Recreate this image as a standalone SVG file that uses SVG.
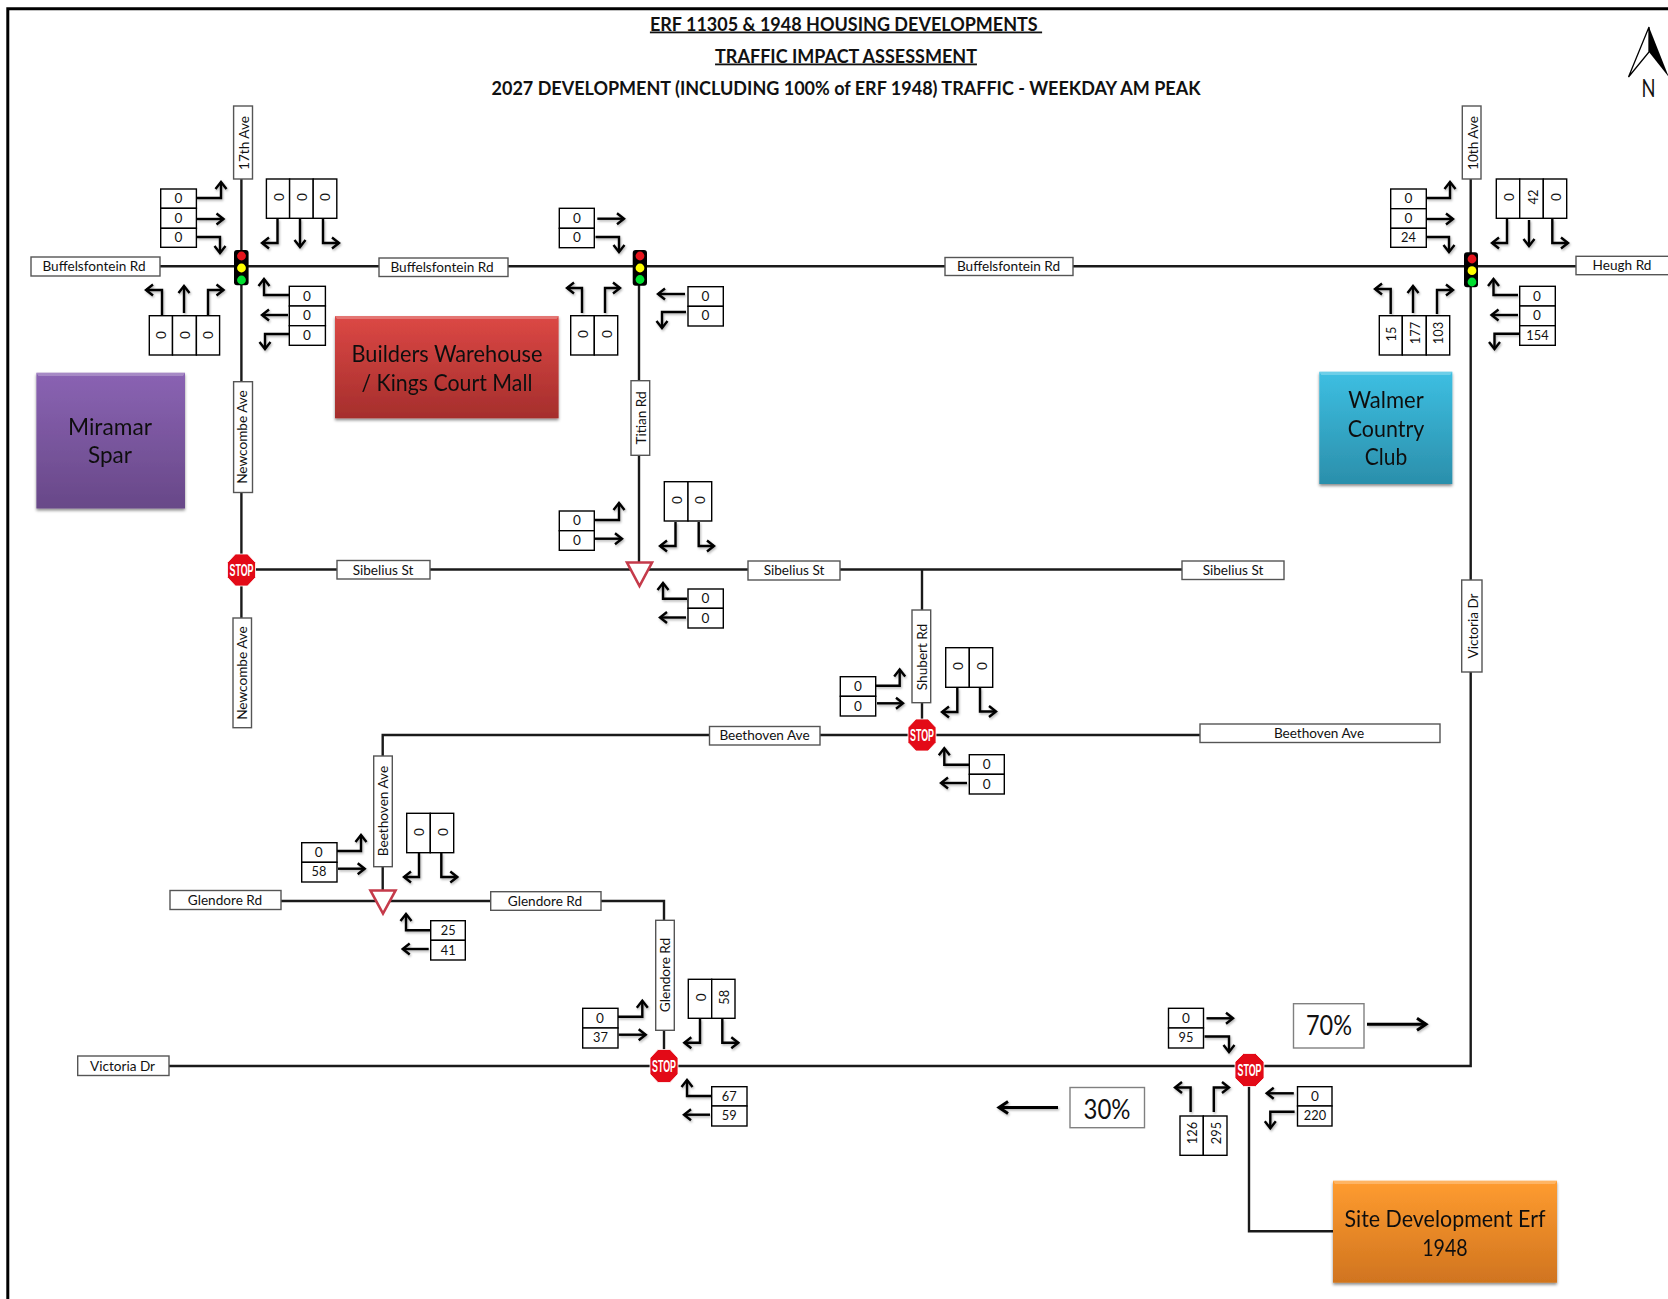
<svg xmlns="http://www.w3.org/2000/svg" width="1668" height="1299" viewBox="0 0 1668 1299">
<style>
text{font-family:Lato,"Liberation Sans",sans-serif;fill:#111;text-anchor:middle;dominant-baseline:central}
.ttl{font-size:18px;font-weight:700;dominant-baseline:auto}
.u{text-decoration:underline}
.road{fill:none;stroke:#1a1a1a;stroke-width:2.4}
.c{fill:#fff;stroke:#000;stroke-width:1.4}
.l{fill:#fff;stroke:#555;stroke-width:1.4}
.t{font-size:13.6px}
.v{font-size:13.6px}
.s{font-size:12.8px}
.big{font-size:23px}
.pct{font-size:26px}
.ar{fill:none;stroke:#000;stroke-width:2.4;marker-end:url(#ah)}
.arb{fill:none;stroke:#000;stroke-width:3;marker-end:url(#ahb)}
.stp{fill:#e30a17;stroke:#fff;stroke-width:.8}
.stt{font-family:"Liberation Sans Narrow","Liberation Sans",sans-serif;font-weight:700;font-size:16px;fill:#fff}
.yld{fill:#fff;stroke:#c53a4a;stroke-width:2.6;stroke-linejoin:miter}
.hs{fill:#000}
.bev{fill:#fff;opacity:.25}
</style>
<defs>
<marker id="ah" markerUnits="userSpaceOnUse" markerWidth="18" markerHeight="18" viewBox="-14 -9 18 18" refX="0" refY="0" orient="auto"><path d="M-7,-5.5 L0,0 L-7,5.5" fill="none" stroke="#000" stroke-width="2.4"/></marker>
<marker id="ahb" markerUnits="userSpaceOnUse" markerWidth="20" markerHeight="20" viewBox="-16 -10 20 20" refX="0" refY="0" orient="auto"><path d="M-9,-6 L0,0 L-9,6" fill="none" stroke="#000" stroke-width="3"/></marker>
<filter id="sh" x="-20%" y="-20%" width="140%" height="140%"><feDropShadow dx="1" dy="1.5" stdDeviation="1" flood-color="#000" flood-opacity=".3"/></filter>
<filter id="bs" x="-5%" y="-5%" width="110%" height="112%"><feDropShadow dx="0" dy="2" stdDeviation="1.5" flood-color="#000" flood-opacity=".45"/></filter>
<linearGradient id="gr" x1="0" y1="0" x2="0" y2="1"><stop offset="0" stop-color="#dc4845"/><stop offset="1" stop-color="#a52e2c"/></linearGradient>
<linearGradient id="gp" x1="0" y1="0" x2="0" y2="1"><stop offset="0" stop-color="#8a63b3"/><stop offset="1" stop-color="#684888"/></linearGradient>
<linearGradient id="gb" x1="0" y1="0" x2="0" y2="1"><stop offset="0" stop-color="#3dbfe2"/><stop offset="1" stop-color="#2b8fab"/></linearGradient>
<linearGradient id="go" x1="0" y1="0" x2="0" y2="1"><stop offset="0" stop-color="#ff9c30"/><stop offset="1" stop-color="#d0741f"/></linearGradient>
</defs>
<rect width="1668" height="1299" fill="#fff"/>
<path d="M7.8 1299V8.8H1668" fill="none" stroke="#000" stroke-width="3"/>

<g id="title">
<text class="ttl u" x="846" y="30.5" xml:space="preserve">ERF 11305 &amp; 1948 HOUSING DEVELOPMENTS </text>
<text class="ttl u" x="846" y="62.5">TRAFFIC IMPACT ASSESSMENT</text>
<text class="ttl" x="846" y="94.5">2027 DEVELOPMENT (INCLUDING 100% of ERF 1948) TRAFFIC - WEEKDAY AM PEAK</text>
</g>
<g id="north">
<path d="M1649 27L1628.5 77L1649 52Z" fill="#fff" stroke="#000" stroke-width="1.3"/>
<path d="M1649 27L1668 75V76L1649 52Z" fill="#000"/>
<text x="1648.5" y="87" font-size="25" textLength="14" lengthAdjust="spacingAndGlyphs">N</text>
</g>

<g id="roads">
<path class="road" d="M160 266.3H1576"/>
<path class="road" d="M241.4 179V618"/>
<path class="road" d="M639 266V569"/>
<path class="road" d="M241 569.5H1182"/>
<path class="road" d="M922 569.5V735"/>
<path class="road" d="M1200 735H382.7V890"/>
<path class="road" d="M281 901H664V1050"/>
<path class="road" d="M169 1066H1470.7V179"/>
<path class="road" d="M1249 1086V1231.3H1335.5"/>
</g>

<g id="connectors" filter="url(#sh)">
<path class="ar" d="M196.5 198H221V182"/><path class="ar" d="M197 219H223.5"/><path class="ar" d="M197 237H220V253"/>
<path class="ar" d="M277.5 219V243H262"/><path class="ar" d="M300 219V247"/><path class="ar" d="M323 219V243H339"/>
<path class="ar" d="M162 315V290H146"/><path class="ar" d="M184 313V286"/><path class="ar" d="M208 315V290H223.5"/>
<path class="ar" d="M289 295H264V279"/><path class="ar" d="M288 315H262"/><path class="ar" d="M289 334H265V349"/>
<path class="ar" d="M597.3 218.7H624"/><path class="ar" d="M595.5 237H619V252"/>
<path class="ar" d="M582 313V288H567"/><path class="ar" d="M605 313V288H620"/>
<path class="ar" d="M685 294H658"/><path class="ar" d="M686 312H662V328"/>
<path class="ar" d="M594.5 520H619V503"/><path class="ar" d="M595 538.7H622"/>
<path class="ar" d="M675.5 522V546H660"/><path class="ar" d="M698.7 522V546H714"/>
<path class="ar" d="M687 598.7H663V583"/><path class="ar" d="M686 617.5H660"/>
<path class="ar" d="M1426.5 198H1450V182"/><path class="ar" d="M1427 219H1453"/><path class="ar" d="M1426 237H1449V252"/>
<path class="ar" d="M1507 219V243H1492"/><path class="ar" d="M1529 220V246"/><path class="ar" d="M1552.3 219V243H1568"/>
<path class="ar" d="M1390.7 314V289H1375"/><path class="ar" d="M1413 313V286"/><path class="ar" d="M1437 314V290H1453"/>
<path class="ar" d="M1518 295H1493.5V279"/><path class="ar" d="M1518 315H1491.5"/><path class="ar" d="M1519 333.7H1494.5V349"/>
<path class="ar" d="M875.7 685.7H899.7V669.5"/><path class="ar" d="M877 703.3H903"/>
<path class="ar" d="M957.3 688V712H942"/><path class="ar" d="M980 688V711.5H996"/>
<path class="ar" d="M969 764.7H944.3V748.3"/><path class="ar" d="M967 783H941"/>
<path class="ar" d="M337 851H361V835"/><path class="ar" d="M338 868.7H364.7"/>
<path class="ar" d="M419 853V877H404"/><path class="ar" d="M441.3 853V877H457.3"/>
<path class="ar" d="M430 930.3H406V914"/><path class="ar" d="M428.7 949H402.7"/>
<path class="ar" d="M618 1016.7H642.3V1000.7"/><path class="ar" d="M618.7 1034.7H645.7"/>
<path class="ar" d="M700 1019V1042.7H684.3"/><path class="ar" d="M722.3 1019V1042.7H738.3"/>
<path class="ar" d="M711.3 1096H687V1080"/><path class="ar" d="M710 1114.7H684"/>
<path class="ar" d="M1206.5 1018.3H1233"/><path class="ar" d="M1204.5 1036.5H1229V1052"/>
<path class="ar" d="M1190.6 1112V1087.5H1175"/><path class="ar" d="M1213.8 1112V1087.5H1229"/>
<path class="ar" d="M1293.8 1093.3H1266.7"/><path class="ar" d="M1294.6 1111.7H1270.3V1128.3"/>
<path class="arb" d="M1367 1024.3H1426"/><path class="arb" d="M1058 1107.5H999"/>
</g>

<g id="road-labels">
<rect class="l" x="233.6" y="106" width="18.9" height="73"/><text class="t" transform="translate(243.5 143) rotate(-90)">17th Ave</text>
<rect class="l" x="31" y="257" width="129" height="19"/><text class="t" x="94" y="265.5">Buffelsfontein Rd</text>
<rect class="l" x="379" y="258" width="129" height="18.5"/><text class="t" x="442" y="266.5">Buffelsfontein Rd</text>
<rect class="l" x="945" y="257.5" width="128" height="18"/><text class="t" x="1008.5" y="265.5">Buffelsfontein Rd</text>
<rect class="l" x="1576" y="256.3" width="94" height="18.4"/><text class="t" x="1622" y="264.5">Heugh Rd</text>
<rect class="l" x="1462.3" y="106" width="18.7" height="73"/><text class="t" transform="translate(1472.5 143) rotate(-90)">10th Ave</text>
<rect class="l" x="233.6" y="381.7" width="18.9" height="110.8"/><text class="t" transform="translate(242.3 437) rotate(-90)">Newcombe Ave</text>
<rect class="l" x="631" y="380.7" width="18.7" height="74.6"/><text class="t" transform="translate(640.5 418) rotate(-90)">Titian Rd</text>
<rect class="l" x="337" y="560.5" width="93" height="18.5"/><text class="t" x="383" y="569.5">Sibelius St</text>
<rect class="l" x="748" y="561" width="92" height="19"/><text class="t" x="794" y="569.8">Sibelius St</text>
<rect class="l" x="1182" y="561" width="102" height="18.5"/><text class="t" x="1233" y="569.5">Sibelius St</text>
<rect class="l" x="233" y="618" width="18.5" height="109.7"/><text class="t" transform="translate(241.8 673) rotate(-90)">Newcombe Ave</text>
<rect class="l" x="1461.7" y="580" width="20.3" height="92"/><text class="t" transform="translate(1472.5 626) rotate(-90)">Victoria Dr</text>
<rect class="l" x="912" y="610" width="18.7" height="92.7"/><text class="t" transform="translate(921.5 657) rotate(-90)">Shubert Rd</text>
<rect class="l" x="709.5" y="726.5" width="110.5" height="18.5"/><text class="t" x="764.5" y="735">Beethoven Ave</text>
<rect class="l" x="1200" y="724" width="240" height="18.5"/><text class="t" x="1319" y="732.8">Beethoven Ave</text>
<rect class="l" x="373.7" y="756" width="18.6" height="110.7"/><text class="t" transform="translate(382.5 811) rotate(-90)">Beethoven Ave</text>
<rect class="l" x="170" y="890.5" width="111" height="19"/><text class="t" x="225" y="899.7">Glendore Rd</text>
<rect class="l" x="490.7" y="891.7" width="110.3" height="18.6"/><text class="t" x="545" y="900.5">Glendore Rd</text>
<rect class="l" x="655.7" y="920.3" width="18.6" height="110"/><text class="t" transform="translate(665 975) rotate(-90)">Glendore Rd</text>
<rect class="l" x="77.7" y="1056" width="91.3" height="19.5"/><text class="t" x="122.5" y="1065.5">Victoria Dr</text>
</g>

<g id="signal-17th"><rect class="hs" x="234" y="250" width="14.6" height="35.3" rx="3"/><circle cx="241.5" cy="256" r="4.4" fill="#e5141c"/><circle cx="241.5" cy="268" r="4.4" fill="#ffff00"/><circle cx="241.5" cy="280" r="4.4" fill="#00e030"/></g>
<g id="signal-titian"><rect class="hs" x="632.7" y="250" width="14.3" height="35.7" rx="3"/><circle cx="640" cy="256" r="4.4" fill="#e5141c"/><circle cx="640" cy="268" r="4.4" fill="#ffff00"/><circle cx="640" cy="279.5" r="4.4" fill="#00e030"/></g>
<g id="signal-10th"><rect class="hs" x="1464" y="252.3" width="14" height="35" rx="3"/><circle cx="1472" cy="259" r="4.4" fill="#e5141c"/><circle cx="1472" cy="270.7" r="4.4" fill="#ffff00"/><circle cx="1472" cy="282" r="4.4" fill="#00e030"/></g>

<g id="stop-newcombe"><path class="stp" d="M235.5 554H247.5L255.5 562.5V577.5L247.5 586H235.5L227.5 577.5V562.5Z"/><text class="stt" x="241.5" y="570.5" textLength="24" lengthAdjust="spacingAndGlyphs">STOP</text></g>
<g id="stop-shubert"><path class="stp" d="M916 719H928L936 727.5V742.5L928 751H916L908 742.5V727.5Z"/><text class="stt" x="922" y="735.5" textLength="24" lengthAdjust="spacingAndGlyphs">STOP</text></g>
<g id="stop-glendore"><path class="stp" d="M658 1049.5H670L678 1058V1074L670 1082.5H658L650 1074V1058Z"/><text class="stt" x="664" y="1066.5" textLength="24" lengthAdjust="spacingAndGlyphs">STOP</text></g>
<g id="stop-site"><path class="stp" d="M1243.5 1053.5H1255.5L1264 1062V1078L1255.5 1086.5H1243.5L1235 1078V1062Z"/><text class="stt" x="1249.5" y="1070.5" textLength="24" lengthAdjust="spacingAndGlyphs">STOP</text></g>
<g id="yield-titian"><path class="yld" d="M627 562.5H652L639.5 586Z"/></g>
<g id="yield-beethoven"><path class="yld" d="M370.5 890.5H395.5L383 913.5Z"/></g>

<g id="t-17th-w">
<rect class="c" x="160.7" y="189" width="35.7" height="19.3"/><text class="v" x="178.5" y="198">0</text>
<rect class="c" x="160.7" y="208.3" width="35.7" height="20"/><text class="v" x="178.5" y="217.8">0</text>
<rect class="c" x="160.7" y="228.3" width="35.7" height="19"/><text class="v" x="178.5" y="237">0</text>
</g>
<g id="t-17th-n">
<rect class="c" x="266.4" y="179" width="23.2" height="39.3"/><text class="v" transform="translate(278.5 197) rotate(-90)">0</text>
<rect class="c" x="289.6" y="179" width="23.6" height="39.3"/><text class="v" transform="translate(302 197) rotate(-90)">0</text>
<rect class="c" x="313.2" y="179" width="23.6" height="39.3"/><text class="v" transform="translate(325 197) rotate(-90)">0</text>
</g>
<g id="t-17th-s">
<rect class="c" x="149.3" y="315.7" width="23.2" height="39.3"/><text class="v" transform="translate(161 335) rotate(-90)">0</text>
<rect class="c" x="172.5" y="315.7" width="23.9" height="39.3"/><text class="v" transform="translate(185 335) rotate(-90)">0</text>
<rect class="c" x="196.4" y="315.7" width="23.2" height="39.3"/><text class="v" transform="translate(208 335) rotate(-90)">0</text>
</g>
<g id="t-17th-e">
<rect class="c" x="289.3" y="286.3" width="36.1" height="19.7"/><text class="v" x="307" y="295.5">0</text>
<rect class="c" x="289.3" y="306" width="36.1" height="19.7"/><text class="v" x="307" y="315">0</text>
<rect class="c" x="289.3" y="325.7" width="36.1" height="19.6"/><text class="v" x="307" y="335">0</text>
</g>

<g id="t-titian-w">
<rect class="c" x="559.3" y="208.3" width="35" height="20"/><text class="v" x="577" y="218">0</text>
<rect class="c" x="559.3" y="228.3" width="35" height="19.4"/><text class="v" x="577" y="237">0</text>
</g>
<g id="t-titian-s">
<rect class="c" x="570.7" y="315.7" width="23.6" height="39.3"/><text class="v" transform="translate(582.7 334) rotate(-90)">0</text>
<rect class="c" x="594.3" y="315.7" width="23.4" height="39.3"/><text class="v" transform="translate(606.7 334) rotate(-90)">0</text>
</g>
<g id="t-titian-e">
<rect class="c" x="688" y="286.7" width="35.3" height="19.6"/><text class="v" x="705.5" y="296">0</text>
<rect class="c" x="688" y="306.3" width="35.3" height="19.7"/><text class="v" x="705.5" y="315">0</text>
</g>

<g id="t-yield-w">
<rect class="c" x="559.3" y="511" width="35" height="19.7"/><text class="v" x="577" y="520.3">0</text>
<rect class="c" x="559.3" y="530.7" width="35" height="19.6"/><text class="v" x="577" y="539.5">0</text>
</g>
<g id="t-yield-n">
<rect class="c" x="664.3" y="481.7" width="23.7" height="39.3"/><text class="v" transform="translate(677 500) rotate(-90)">0</text>
<rect class="c" x="688" y="481.7" width="23.7" height="39.3"/><text class="v" transform="translate(700.3 500) rotate(-90)">0</text>
</g>
<g id="t-yield-e">
<rect class="c" x="688" y="589" width="35.3" height="19.3"/><text class="v" x="705.5" y="598.2">0</text>
<rect class="c" x="688" y="608.3" width="35.3" height="19.7"/><text class="v" x="705.5" y="617.5">0</text>
</g>

<g id="t-10th-w">
<rect class="c" x="1390.7" y="189" width="35.6" height="19.7"/><text class="v" x="1408.5" y="198">0</text>
<rect class="c" x="1390.7" y="208.7" width="35.6" height="19.6"/><text class="v" x="1408.5" y="217.8">0</text>
<rect class="c" x="1390.7" y="228.3" width="35.6" height="19"/><text class="s" x="1408.5" y="237">24</text>
</g>
<g id="t-10th-n">
<rect class="c" x="1496.3" y="179" width="23.4" height="39.3"/><text class="v" transform="translate(1509 197) rotate(-90)">0</text>
<rect class="c" x="1519.7" y="179" width="23.6" height="39.3"/><text class="s" transform="translate(1532.7 197) rotate(-90)">42</text>
<rect class="c" x="1543.3" y="179" width="23.4" height="39.3"/><text class="v" transform="translate(1555.7 197) rotate(-90)">0</text>
</g>
<g id="t-10th-s">
<rect class="c" x="1379.3" y="315.7" width="23" height="39.3"/><text class="s" transform="translate(1391.2 334) rotate(-90)">15</text>
<rect class="c" x="1402.3" y="315.7" width="24" height="39.3"/><text class="s" transform="translate(1414.5 333) rotate(-90)">177</text>
<rect class="c" x="1426.3" y="315.7" width="23.4" height="39.3"/><text class="s" transform="translate(1438.3 333) rotate(-90)">103</text>
</g>
<g id="t-10th-e">
<rect class="c" x="1519.7" y="286.3" width="35.6" height="19.7"/><text class="v" x="1537" y="295.5">0</text>
<rect class="c" x="1519.7" y="306" width="35.6" height="19.7"/><text class="v" x="1537" y="315">0</text>
<rect class="c" x="1519.7" y="325.7" width="35.6" height="19.6"/><text class="s" x="1537.5" y="335">154</text>
</g>

<g id="t-shubert-w">
<rect class="c" x="840.3" y="676.7" width="35.4" height="19.6"/><text class="v" x="858" y="686">0</text>
<rect class="c" x="840.3" y="696.3" width="35.4" height="19.7"/><text class="v" x="858" y="705.5">0</text>
</g>
<g id="t-shubert-n">
<rect class="c" x="945.7" y="647.7" width="23.6" height="39.6"/><text class="v" transform="translate(958.3 666) rotate(-90)">0</text>
<rect class="c" x="969.3" y="647.7" width="23.4" height="39.6"/><text class="v" transform="translate(981.7 666) rotate(-90)">0</text>
</g>
<g id="t-shubert-e">
<rect class="c" x="969.3" y="754.7" width="35" height="19.6"/><text class="v" x="986.7" y="764">0</text>
<rect class="c" x="969.3" y="774.3" width="35" height="19.7"/><text class="v" x="986.7" y="783.7">0</text>
</g>

<g id="t-beet-w">
<rect class="c" x="301.7" y="842.7" width="35.3" height="19.6"/><text class="v" x="318.7" y="852">0</text>
<rect class="c" x="301.7" y="862.3" width="35.3" height="19.7"/><text class="s" x="319" y="871">58</text>
</g>
<g id="t-beet-n">
<rect class="c" x="406.7" y="813.3" width="23.6" height="39.4"/><text class="v" transform="translate(419 832) rotate(-90)">0</text>
<rect class="c" x="430.3" y="813.3" width="23.4" height="39.4"/><text class="v" transform="translate(442.7 832) rotate(-90)">0</text>
</g>
<g id="t-beet-e">
<rect class="c" x="430.7" y="920.7" width="34.6" height="19.6"/><text class="s" x="448.3" y="930">25</text>
<rect class="c" x="430.7" y="940.3" width="34.6" height="19.7"/><text class="s" x="448.3" y="950">41</text>
</g>

<g id="t-glen-w">
<rect class="c" x="582.7" y="1008.3" width="35.3" height="19.7"/><text class="v" x="600" y="1017.7">0</text>
<rect class="c" x="582.7" y="1028" width="35.3" height="20"/><text class="s" x="600.5" y="1037">37</text>
</g>
<g id="t-glen-n">
<rect class="c" x="688.3" y="979.3" width="23.4" height="39"/><text class="v" transform="translate(700.7 997.3) rotate(-90)">0</text>
<rect class="c" x="711.7" y="979.3" width="23.3" height="39"/><text class="s" transform="translate(723.5 997.3) rotate(-90)">58</text>
</g>
<g id="t-glen-e">
<rect class="c" x="711.7" y="1086.7" width="35.3" height="19.3"/><text class="s" x="729.3" y="1096">67</text>
<rect class="c" x="711.7" y="1106" width="35.3" height="20"/><text class="s" x="729.3" y="1115.2">59</text>
</g>

<g id="t-site-w">
<rect class="c" x="1168.5" y="1008.3" width="35" height="19.7"/><text class="v" x="1186" y="1018">0</text>
<rect class="c" x="1168.5" y="1028" width="35" height="20"/><text class="s" x="1186" y="1037">95</text>
</g>
<g id="t-site-s">
<rect class="c" x="1180" y="1116" width="23.3" height="39.3"/><text class="s" transform="translate(1192.2 1133) rotate(-90)">126</text>
<rect class="c" x="1203.3" y="1116" width="23.7" height="39.3"/><text class="s" transform="translate(1215.5 1133) rotate(-90)">295</text>
</g>
<g id="t-site-e">
<rect class="c" x="1297.5" y="1086.7" width="34.5" height="19.3"/><text class="v" x="1315" y="1096">0</text>
<rect class="c" x="1297.5" y="1106" width="34.5" height="20"/><text class="s" x="1315" y="1115">220</text>
</g>

<g id="pct-70"><rect x="1293.5" y="1003.7" width="70.5" height="44.3" fill="#fff" stroke="#808080" stroke-width="1.4"/><text class="pct" x="1329" y="1024.5" textLength="46" lengthAdjust="spacingAndGlyphs">70%</text></g>
<g id="pct-30"><rect x="1070" y="1087.5" width="74.5" height="40.2" fill="#fff" stroke="#808080" stroke-width="1.4"/><text class="pct" x="1107" y="1108.5" textLength="47" lengthAdjust="spacingAndGlyphs">30%</text></g>

<g id="miramar" filter="url(#bs)"><rect x="36.4" y="372.7" width="148.6" height="135.8" fill="url(#gp)"/><path class="bev" d="M36.4 372.7H185L183 376H38.4Z"/><text class="big" x="110" y="425.5" textLength="84" lengthAdjust="spacingAndGlyphs">Miramar</text><text class="big" x="110" y="453.5" textLength="44" lengthAdjust="spacingAndGlyphs">Spar</text></g>
<g id="builders" filter="url(#bs)"><rect x="335" y="316" width="223.6" height="102.3" fill="url(#gr)"/><path class="bev" d="M335 316H558.6L556.6 319H337Z"/><text class="big" x="447" y="353" textLength="191" lengthAdjust="spacingAndGlyphs">Builders Warehouse</text><text class="big" x="447" y="381.5" textLength="171" lengthAdjust="spacingAndGlyphs">/ Kings Court Mall</text></g>
<g id="walmer" filter="url(#bs)"><rect x="1319.3" y="371.7" width="133" height="112.3" fill="url(#gb)"/><path class="bev" d="M1319.3 371.7H1452.3L1450.3 375H1321.3Z"/><text class="big" x="1386" y="399" textLength="75.5" lengthAdjust="spacingAndGlyphs">Walmer</text><text class="big" x="1386" y="427.5" textLength="76.5" lengthAdjust="spacingAndGlyphs">Country</text><text class="big" x="1386" y="455.5" textLength="42.5" lengthAdjust="spacingAndGlyphs">Club</text></g>
<g id="site" filter="url(#bs)"><rect x="1333" y="1180.7" width="224" height="102" fill="url(#go)"/><path class="bev" d="M1333 1180.7H1557L1555 1184H1335Z"/><text class="big" x="1445" y="1218" textLength="201" lengthAdjust="spacingAndGlyphs">Site Development Erf</text><text class="big" x="1445" y="1246.5" textLength="45.5" lengthAdjust="spacingAndGlyphs">1948</text></g>
</svg>
